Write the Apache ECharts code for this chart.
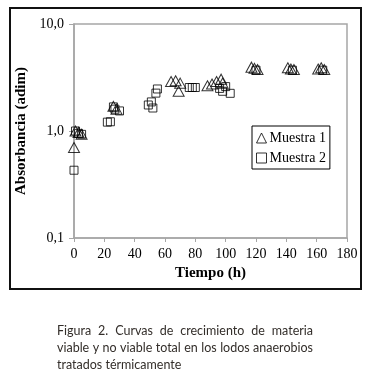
<!DOCTYPE html>
<html>
<head>
<meta charset="utf-8">
<script src="https://cdn.jsdelivr.net/npm/echarts@6/dist/echarts.min.js"></script>
<style>
  html, body { margin: 0; padding: 0; background: #fff; }
  #chart { width: 371px; height: 379px; }
</style>
</head>
<body>
<div id="chart"></div>
<script>
// datos
var tiempo1 = [0, 1, 3, 5, 26, 28, 64, 67, 70, 69, 88, 91, 94, 97, 98, 117, 119, 121, 141, 143, 145, 161, 163, 165];
var abs1 = [0.70, 1.0, 0.97, 0.93, 1.7, 1.6, 2.9, 2.95, 2.8, 2.35, 2.65, 2.75, 2.9, 3.05, 2.8, 3.95, 3.85, 3.75, 3.9, 3.8, 3.75, 3.8, 3.9, 3.75];

var tiempo2 = [0, 1, 3, 5, 22, 24, 26, 27, 30, 49, 51, 52, 54, 55, 76, 78, 80, 96, 98, 100, 103, 120, 144, 164];
var abs2 = [0.43, 1.0, 0.95, 0.93, 1.21, 1.22, 1.68, 1.6, 1.54, 1.75, 1.87, 1.64, 2.26, 2.47, 2.55, 2.55, 2.55, 2.5, 2.35, 2.6, 2.25, 3.7, 3.7, 3.7];

var xTicks = [0, 20, 40, 60, 80, 100, 120, 140, 160, 180];
var yTicks = ['0,1', '1,0', '10,0'];

var caption = [
    'Figura 2. Curvas de crecimiento de materia',
    'viable y no viable total en los lodos anaerobios',
    'tratados térmicamente'
];

function pares(xs, ys) {
    return xs.map(function (x, i) { return [x, ys[i]]; });
}

var serif = '"Liberation Serif", "DejaVu Serif", serif';

// pie de figura justificado palabra por palabra
var capFont = '12.5px Lato';
var capColor = '#332e2a';
var ctx = document.createElement('canvas').getContext('2d');
ctx.font = capFont;
var capLeft = 57, capRight = 313, capTop = 324, capLine = 17;
var capEls = [];
caption.forEach(function (linea, i) {
    var words = linea.split(' ');
    var y = capTop + i * capLine;
    if (i === caption.length - 1) {
        capEls.push({ type: 'text', x: capLeft, y: y,
            style: { text: linea, font: capFont, fill: capColor } });
        return;
    }
    var total = 0;
    words.forEach(function (w) { total += ctx.measureText(w).width; });
    var gap = (capRight - capLeft - total) / (words.length - 1);
    var x = capLeft;
    words.forEach(function (w) {
        capEls.push({ type: 'text', x: x, y: y,
            style: { text: w, font: capFont, fill: capColor } });
        x += ctx.measureText(w).width + gap;
    });
});

var myChart = echarts.init(document.getElementById('chart'));

var option = {
    backgroundColor: '#fff',
    animation: false,
    grid: {
        left: 74,
        right: 24,
        top: 24,
        bottom: 141,
        show: true,
        borderColor: '#a6a6a6',
        borderWidth: 1.5
    },
    legend: {
        left: 252,
        top: 126,
        orient: 'vertical',
        backgroundColor: '#fff',
        borderColor: '#000',
        borderWidth: 1,
        borderRadius: 0,
        padding: [5, 4, 4, 4],
        itemGap: 6,
        itemWidth: 10,
        itemHeight: 10,
        itemStyle: { color: 'rgba(0,0,0,0)', borderColor: '#000', borderWidth: 1 },
        textStyle: { fontFamily: serif, fontSize: 14, color: '#000', padding: [0, 0, 0, -2] },
        data: ['Muestra 1', 'Muestra 2']
    },
    xAxis: {
        type: 'value',
        min: 0,
        max: 180,
        interval: 20,
        name: 'Tiempo (h)',
        nameLocation: 'middle',
        nameGap: 25,
        nameTextStyle: { fontFamily: serif, fontSize: 15, fontWeight: 'bold', color: '#000' },
        axisLine: { lineStyle: { color: '#a6a6a6', width: 1.5 } },
        axisTick: { show: true, length: 4, lineStyle: { color: '#a6a6a6' } },
        axisLabel: { fontFamily: serif, fontSize: 14, color: '#000', margin: 9 },
        splitLine: { show: false }
    },
    yAxis: {
        type: 'log',
        logBase: 10,
        min: 0.1,
        max: 10,
        name: 'Absorbancia (adim)',
        nameLocation: 'middle',
        nameRotate: 90,
        nameGap: 34,
        nameTextStyle: { fontFamily: serif, fontSize: 15, fontWeight: 'bold', color: '#000' },
        axisLine: { show: true, lineStyle: { color: '#a6a6a6', width: 1.5 } },
        axisTick: { show: true, length: 5, lineStyle: { color: '#a6a6a6' } },
        axisLabel: {
            fontFamily: serif, fontSize: 14, color: '#000', margin: 10,
            formatter: function (v) {
                var k = Math.round(Math.log10(v)) + 1;
                return yTicks[k];
            }
        },
        splitLine: { show: false }
    },
    series: [
        {
            name: 'Muestra 1',
            type: 'scatter',
            symbol: 'triangle',
            symbolSize: [11, 10],
            itemStyle: { color: 'rgba(0,0,0,0)', borderColor: '#000', borderWidth: 1 },
            data: pares(tiempo1, abs1)
        },
        {
            name: 'Muestra 2',
            type: 'scatter',
            symbol: 'rect',
            symbolSize: 8,
            itemStyle: { color: 'rgba(0,0,0,0)', borderColor: '#000', borderWidth: 1 },
            data: pares(tiempo2, abs2)
        }
    ],
    graphic: [
        {
            type: 'rect',
            shape: { x: 10, y: 8, width: 351, height: 281 },
            style: { fill: 'none', stroke: '#111', lineWidth: 2 },
            silent: true
        }
    ].concat(capEls)
};

myChart.setOption(option);
</script>
</body>
</html>
